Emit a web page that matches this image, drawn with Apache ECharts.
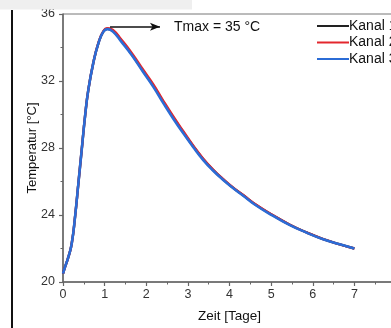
<!DOCTYPE html>
<html>
<head>
<meta charset="utf-8">
<script src="https://cdn.jsdelivr.net/npm/echarts@6/dist/echarts.min.js"></script>
<style>
  html, body { margin: 0; padding: 0; background: #fff; }
  #chart { width: 391px; height: 328px; }
</style>
</head>
<body>
<div id="chart"></div>
<script>
// Zeit in Tagen und Temperatur je Kanal
const zeit = [0, 0.05, 0.13, 0.21, 0.29, 0.37, 0.45, 0.53, 0.61, 0.73, 0.85, 0.97, 1.07, 1.2, 1.4, 1.65, 1.93, 2.17, 2.41, 2.65, 2.89, 3.13, 3.37, 3.61, 3.85, 4.09, 4.33, 4.65, 5.05, 5.45, 5.85, 6.25, 6.65, 7.0];
const kanal1 = [20.5, 20.9, 21.5, 22.3, 23.9, 25.9, 27.9, 29.9, 31.5, 33.1, 34.25, 34.95, 35.12, 35.0, 34.42, 33.6, 32.58, 31.72, 30.75, 29.82, 28.94, 28.1, 27.33, 26.68, 26.12, 25.62, 25.18, 24.58, 23.97, 23.42, 22.96, 22.56, 22.25, 22.0];
const kanal2 = [20.5, 20.9, 21.5, 22.3, 23.9, 25.9, 27.9, 29.9, 31.5, 33.1, 34.27, 34.98, 35.15, 35.05, 34.48, 33.68, 32.66, 31.8, 30.82, 29.88, 29.0, 28.14, 27.36, 26.7, 26.14, 25.63, 25.19, 24.59, 23.98, 23.42, 22.96, 22.56, 22.25, 22.0];
const kanal3 = [20.5, 20.9, 21.5, 22.3, 23.9, 25.9, 27.9, 29.9, 31.5, 33.1, 34.25, 34.95, 35.1, 34.95, 34.35, 33.55, 32.52, 31.65, 30.68, 29.75, 28.88, 28.05, 27.28, 26.64, 26.09, 25.6, 25.15, 24.55, 23.95, 23.4, 22.95, 22.55, 22.25, 22.0];

const kanalNamen = ["Kanal 1", "Kanal 2", "Kanal 3"];
const kanalFarben = ["#222222", "#e3262d", "#2b6cd6"];

// Pfeil zur Maximaltemperatur (Datenkoordinaten)
const tmaxPfeilX = [1.13, 2.33];
const tmaxPfeilY = 35.24;
const tmaxText = "Tmax = 35 °C";

const pairs = (ys) => zeit.map((t, i) => [t, ys[i]]);

const chart = echarts.init(document.getElementById("chart"));

const axisFont = { fontFamily: "Liberation Sans, Arial, sans-serif", fontSize: 12.5, color: "#333" };

const option = {
  animation: false,
  textStyle: { fontFamily: "Liberation Sans, Arial, sans-serif" },
  grid: {
    left: 63,
    top: 14,
    right: -5,
    bottom: 46,
    outerBoundsMode: "none",
    containLabel: false,
    show: true,
    borderColor: "#777",
    borderWidth: 1,
  },
  legend: {
    orient: "vertical",
    left: 312,
    top: 14,
    icon: "rect",
    itemWidth: 32,
    itemHeight: 2,
    itemGap: 2.5,
    textStyle: { fontSize: 14, color: "#111", padding: [0, 0, 0, -5] },
    data: kanalNamen,
  },
  xAxis: {
    type: "value",
    min: 0,
    max: 8,
    interval: 1,
    name: "Zeit [Tage]",
    nameLocation: "middle",
    nameGap: 27,
    nameMoveOverlap: false,
    nameTextStyle: { fontSize: 13.5, color: "#111" },
    axisLine: { lineStyle: { color: "#666", width: 1.5 } },
    axisTick: { inside: false, length: 4, lineStyle: { color: "#666", width: 1.2 } },
    minorTick: { show: true, splitNumber: 2, length: 2.5, lineStyle: { color: "#666" } },
    splitLine: { show: false },
    axisLabel: Object.assign({ margin: 6 }, axisFont),
  },
  yAxis: {
    type: "value",
    min: 20,
    max: 36,
    interval: 4,
    name: "Temperatur [°C]",
    nameLocation: "middle",
    nameGap: 24,
    nameMoveOverlap: false,
    nameTextStyle: { fontSize: 13, color: "#111" },
    axisLine: { show: true, lineStyle: { color: "#666", width: 1.5 } },
    axisTick: { show: true, inside: false, length: 4, lineStyle: { color: "#666", width: 1.2 } },
    minorTick: { show: true, splitNumber: 2, length: 2.5, lineStyle: { color: "#666" } },
    splitLine: { show: false },
    axisLabel: Object.assign({ margin: 8 }, axisFont),
  },
  series: [kanal1, kanal2, kanal3].map((ys, i) => ({
    name: kanalNamen[i],
    type: "line",
    data: pairs(ys),
    smooth: true,
    symbol: "none",
    color: kanalFarben[i],
    lineStyle: { width: i === 2 ? 2.6 : 2.4, color: kanalFarben[i] },
    z: 2 + i,
    markLine: i === 2 ? {
      silent: true,
      symbol: ["none", "arrow"],
      symbolSize: [6, 10],
      lineStyle: { color: "#111", width: 1.5, type: "solid" },
      label: {
        show: true,
        position: "end",
        distance: 14,
        formatter: tmaxText,
        fontSize: 14,
        color: "#111",
      },
      data: [[
        { coord: [tmaxPfeilX[0], tmaxPfeilY] },
        { coord: [tmaxPfeilX[1], tmaxPfeilY] },
      ]],
    } : undefined,
  })),
  graphic: [
    {
      type: "rect",
      z: 100,
      shape: { x: 0, y: 0, width: 192, height: 9.5 },
      style: { fill: "#efefef" },
    },
    {
      type: "line",
      z: 100,
      shape: { x1: 12, y1: 10, x2: 12, y2: 328 },
      style: { stroke: "#111", lineWidth: 2 },
    },
  ],
};

chart.setOption(option);
</script>
</body>
</html>
